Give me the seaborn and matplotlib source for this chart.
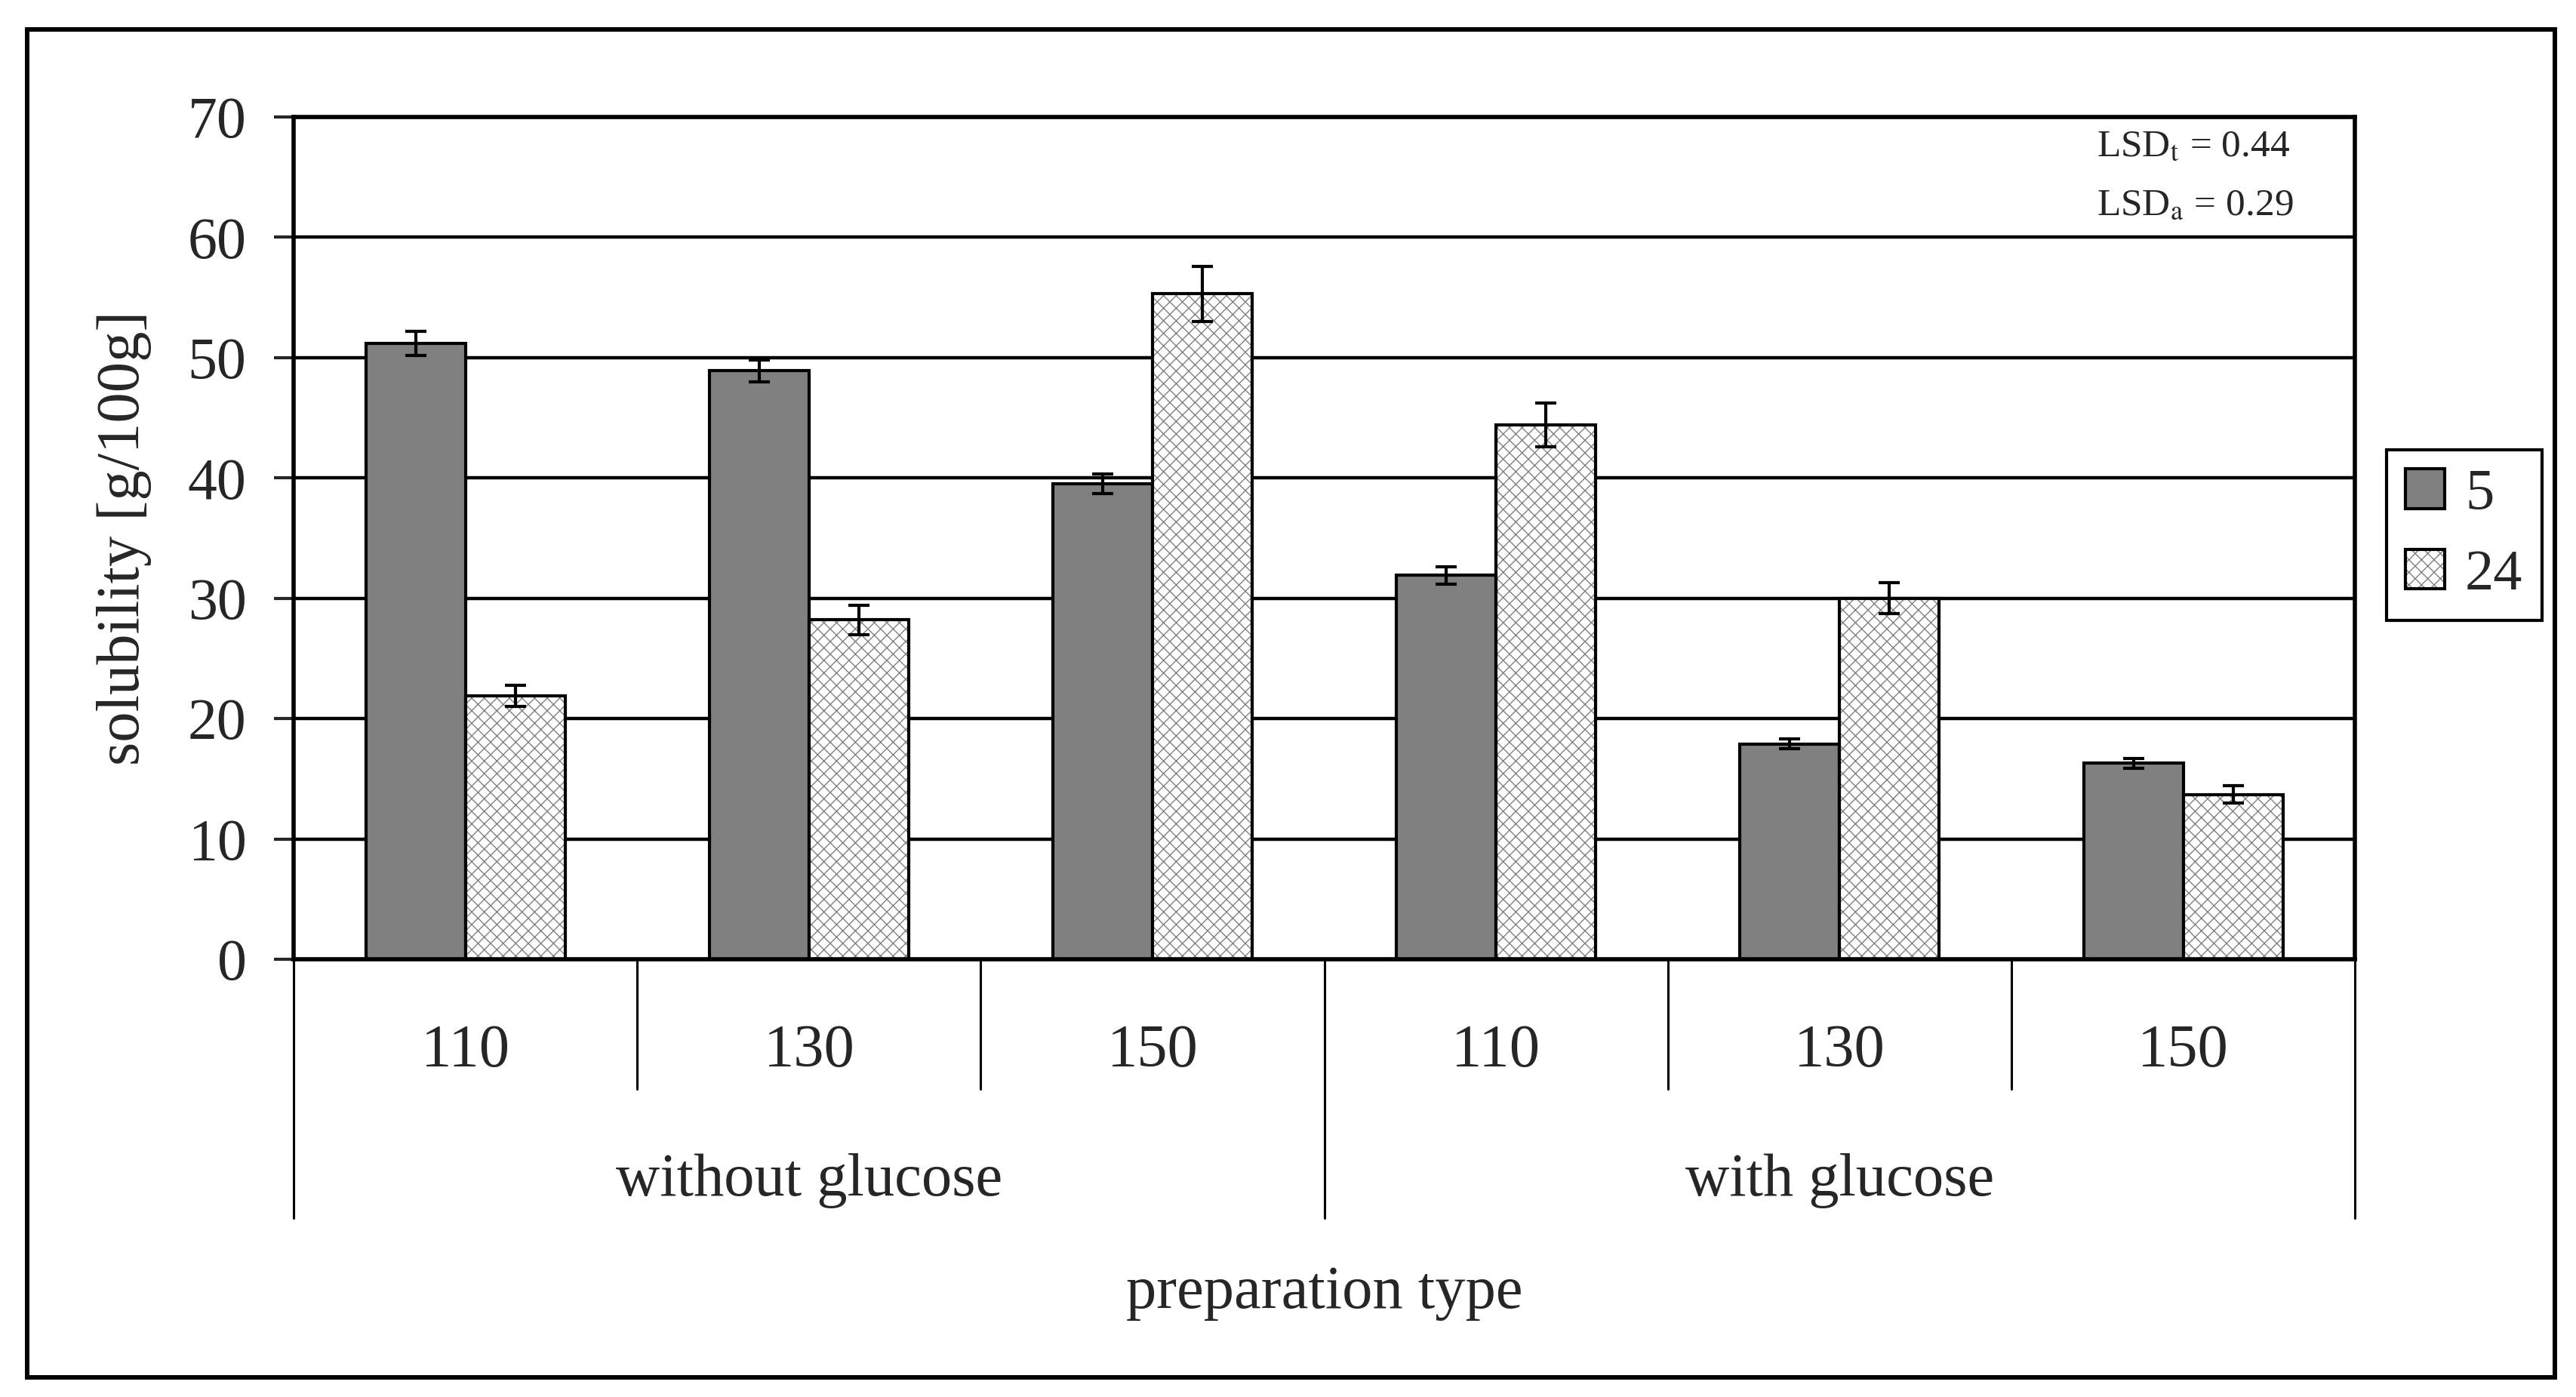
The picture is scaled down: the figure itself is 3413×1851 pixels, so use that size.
import matplotlib
matplotlib.use("Agg")
import matplotlib.pyplot as plt
from matplotlib.colors import to_rgba
from matplotlib.patches import Rectangle
import seaborn as sns
import pandas as pd

# ---- data ----
groups = ["without glucose", "with glucose"]
temps = ["110", "130", "150"]
times = ["5", "24"]
vals_5 = [51.2, 48.9, 39.5, 31.9, 17.9, 16.3]
vals_24 = [21.9, 28.2, 55.3, 44.4, 30.0, 13.7]
err_5 = [1.0, 0.9, 0.8, 0.7, 0.4, 0.4]
err_24 = [0.9, 1.2, 2.3, 1.8, 1.3, 0.7]
lsd_t = "0.44"
lsd_a = "0.29"

cats = [f"{g} {t}" for g in groups for t in temps]
rows = []
for i, c in enumerate(cats):
    rows.append({"prep": c, "time": times[0], "solubility": vals_5[i], "err": err_5[i]})
    rows.append({"prep": c, "time": times[1], "solubility": vals_24[i], "err": err_24[i]})
df = pd.DataFrame(rows)

sns.set_style("ticks")
plt.rcParams["font.family"] = ["Liberation Serif", "DejaVu Serif"]
plt.rcParams["mathtext.fontset"] = "stix"
plt.rcParams["hatch.linewidth"] = 1.0

fig = plt.figure(figsize=(34.13, 18.51), dpi=100)
ax = fig.add_axes([0.1140, 0.3133, 0.9142 - 0.1140, 0.9163 - 0.3133])

sns.barplot(data=df, x="prep", y="solubility", hue="time", order=cats,
            hue_order=times, palette={"5": "#808080", "24": "#ffffff"},
            saturation=1, width=0.58, errorbar=None, legend=False,
            edgecolor="black", linewidth=3, ax=ax, zorder=2)

gray = to_rgba("#808080")
for p in ax.containers[1]:
    p.set_facecolor("white")
    p.set_hatch("xx")
    if hasattr(p, "set_hatchcolor"):
        p.set_hatchcolor(gray)
    else:
        p._hatch_color = gray

# error bars from bar positions
for cont, col in zip(ax.containers, times):
    sub = df[df["time"] == col].set_index("prep").loc[cats]
    xs = [b.get_x() + b.get_width() / 2 for b in cont]
    ax.errorbar(xs, sub["solubility"].values, yerr=sub["err"].values, fmt="none",
                ecolor="black", elinewidth=3, capsize=10, capthick=3, zorder=3)

ax.set_ylim(0, 70)
ax.set_yticks(range(0, 71, 10))
ax.yaxis.grid(True, color="black", linewidth=3.2)
ax.xaxis.grid(False)
ax.set_axisbelow(True)
for s in ax.spines.values():
    s.set_visible(True)
    s.set_linewidth(4)
    s.set_color("black")
ax.tick_params(axis="y", direction="out", length=19, width=3, pad=26, labelsize=56)
ax.tick_params(axis="x", length=0, pad=62, labelsize=58)
ax.set_xticks(range(len(cats)))
ax.set_xticklabels([t for g in groups for t in temps])
ax.set_xlim(-0.5, len(cats) - 0.5)
ax.set_xlabel("")
ax.set_ylabel("solubility [g/100g]", fontsize=58)
ax.yaxis.set_label_coords(-0.069, 0.5)

# hierarchical axis separators
tr = ax.get_xaxis_transform()
n = len(temps)
for k in range(len(cats) + 1):
    xb = k - 0.5
    y1 = -0.307 if k % n == 0 else -0.154
    ax.plot([xb, xb], [0, y1], color="black", linewidth=2.2, transform=tr, clip_on=False)
for gi, g in enumerate(groups):
    ax.text(gi * n + (n - 1) / 2, -0.263, g, transform=tr, ha="center", va="center", fontsize=58)
ax.text((len(cats) - 1) / 2, -0.396, "preparation type", transform=tr,
        ha="center", va="center", fontsize=58)

# LSD annotation
ax.text(0.8748, 0.9534, "LSD$_{\\mathrm{t}}$ = " + lsd_t, transform=ax.transAxes,
        ha="left", va="baseline", fontsize=37)
ax.text(0.8748, 0.8835, "LSD$_{\\mathrm{a}}$ = " + lsd_a, transform=ax.transAxes,
        ha="left", va="baseline", fontsize=37)

# legend
handles = [ax.containers[0][0], ax.containers[1][0]]
leg = ax.legend(handles, times, loc="center left", bbox_to_anchor=(0.9265, 0.617),
                bbox_transform=fig.transFigure, borderaxespad=0, fontsize=55,
                handlelength=0.68, handleheight=0.68, handletextpad=0.35,
                labelspacing=0.49, borderpad=0.33, frameon=True, fancybox=False,
                edgecolor="black", framealpha=1)
leg.get_frame().set_linewidth(3)

# outer frame
fig.patches.append(Rectangle((0.0105, 0.014), 0.9918 - 0.0105, 0.979 - 0.014,
                             transform=fig.transFigure, fill=False,
                             edgecolor="black", linewidth=4.3))

fig.savefig("out.png", dpi=100, facecolor="white")
